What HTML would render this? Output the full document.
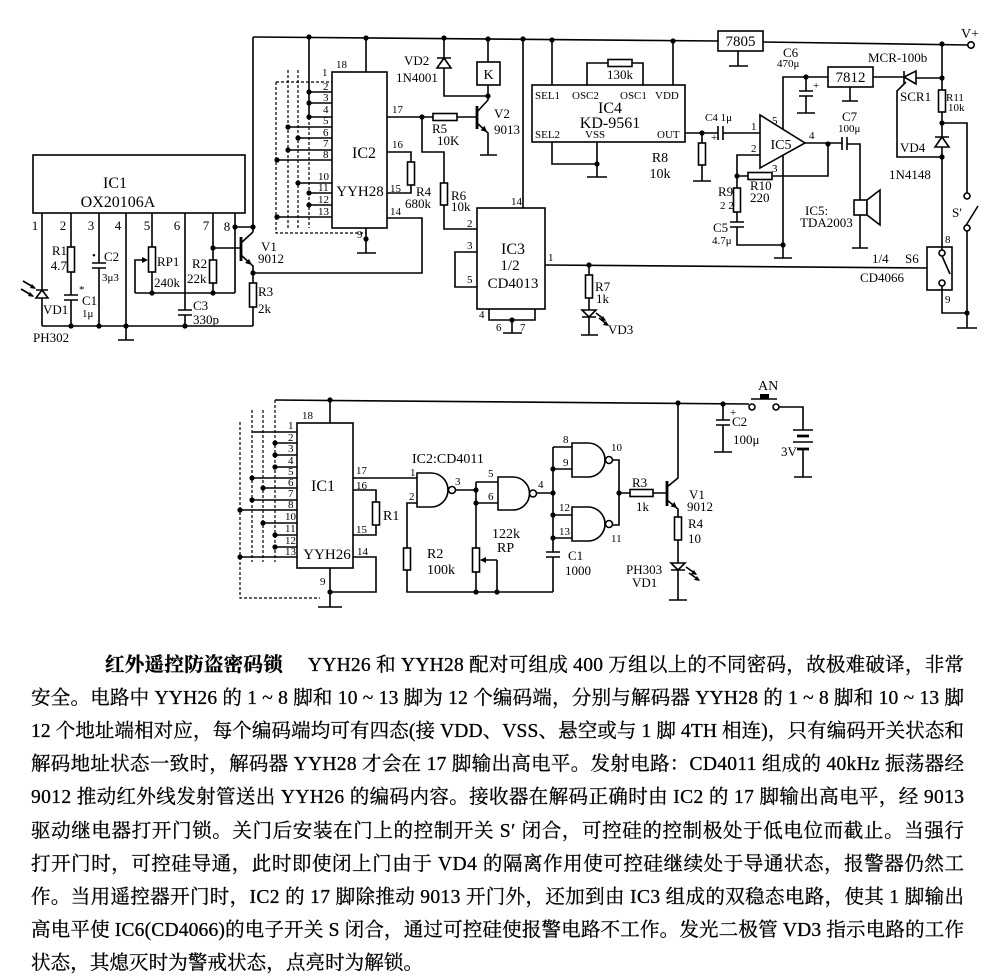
<!DOCTYPE html>
<html><head><meta charset="utf-8">
<style>
html,body{margin:0;padding:0;background:#fff;}
svg{display:block;}
.l{stroke:#000;stroke-width:1.6;fill:none;}
.k{stroke:#000;stroke-width:2.8;fill:none;}
.d{stroke:#000;stroke-width:1.2;fill:none;stroke-dasharray:3 2;}
.r{stroke:#000;stroke-width:1.6;fill:#fff;}
.f{fill:#000;stroke:none;}
text{font-family:"Liberation Serif","DejaVu Serif",serif;font-size:13px;fill:#000;}
.s{font-size:11px;}
.b{font-size:16px;}
.m{text-anchor:middle;}
.e{text-anchor:end;}
.p{font-family:"Liberation Serif","Noto Serif CJK SC",serif;font-size:19.5px;stroke:#000;stroke-width:0.3;}
</style></head><body>
<svg width="987" height="977" viewBox="0 0 987 977" xmlns="http://www.w3.org/2000/svg">
<rect width="987" height="977" fill="#fff"/>

<!-- ================= TOP CIRCUIT ================= -->
<path class="l" d="M253,37 L718,41 M763,42 L968,45"/>
<circle cx="971" cy="45" r="3.2" class="r"/>
<text x="961" y="38" style="font-size:14px">V+</text>
<rect x="718" y="31" width="45" height="20" class="r"/>
<text x="740.5" y="46" class="m" style="font-size:15px">7805</text>
<path class="l" d="M738,51 V66 M729,66 H748"/>

<!-- IC1 -->
<rect x="33" y="155" width="212" height="58" class="l"/>
<text x="115" y="188" class="m b">IC1</text>
<text x="118" y="207" class="m b">OX20106A</text>
<text x="35" y="230" class="m">1</text><text x="63" y="230" class="m">2</text>
<text x="91" y="230" class="m">3</text><text x="118" y="230" class="m">4</text>
<text x="147" y="230" class="m">5</text><text x="177" y="230" class="m">6</text>
<text x="206" y="230" class="m">7</text><text x="227" y="231" class="m">8</text>
<path class="l" d="M42,213 V290 M42,298 V326 M36,290 H48 M42,326 H253
M71,213 V247 M71,272 V295 M71,300 V326 M64,295 H78 M64,300 H78
M99,213 V263 M99,268 V326 M92,263 H106 M92,268 H106
M126,213 V340 M118,340 H134
M152,213 V247 M152,272 V293 M135,293 V260 H146 M135,293 H235
M185,213 V310 M185,315 V326 M178,310 H192 M178,315 H192
M213,213 V260 M213,283 V293 M213,248 H241
M235,213 V293 M235,227 H253
M253,37 V232 M241,243 L253,232 M241,255 L253,266 V283 M253,307 V326
M253,273 H422 V218 H387"/>
<polygon points="42,290 36,298 48,298" class="r"/>
<path class="l" d="M23,281 L35,288 M21,289 L33,296"/>
<polygon class="f" points="36,289 30,288 32,284"/><polygon class="f" points="34,297 28,296 30,292"/>
<rect x="67.5" y="247" width="7" height="25" class="r"/>
<rect x="148.5" y="247" width="7" height="25" class="r"/>
<polygon class="f" points="148,260 142,257 142,263"/>
<rect x="209.5" y="260" width="7" height="23" class="r"/>
<rect x="249.5" y="283" width="7" height="24" class="r"/>
<path class="k" d="M241,237 V261"/>
<polygon class="f" points="252,265 245,263 249,259"/>
<g class="f">
<circle cx="71" cy="326" r="2.6"/><circle cx="99" cy="326" r="2.6"/><circle cx="126" cy="326" r="2.6"/>
<circle cx="185" cy="326" r="2.6"/><circle cx="152" cy="293" r="2.6"/><circle cx="213" cy="293" r="2.6"/>
<circle cx="213" cy="248" r="2.6"/><circle cx="235" cy="227" r="2.6"/><circle cx="253" cy="227" r="2.6"/>
<circle cx="253" cy="273" r="2.6"/>
</g>
<text x="67" y="255" class="e">R1</text><text x="67" y="270" class="e">4.7</text>
<text x="79" y="293" class="s">*</text>
<text x="82" y="305">C1</text><text x="82" y="317" class="s">1μ</text>
<text x="92" y="259" class="s">•</text>
<text x="104" y="261">C2</text><text x="102" y="281" class="s">3μ3</text>
<text x="157" y="266">RP1</text><text x="154" y="287">240k</text>
<text x="192" y="268">R2</text><text x="187" y="283">22k</text>
<text x="193" y="310">C3</text><text x="193" y="324">330p</text>
<text x="258" y="296">R3</text><text x="258" y="313">2k</text>
<text x="43" y="314">VD1</text><text x="33" y="342">PH302</text>
<text x="261" y="251">V1</text><text x="258" y="263">9012</text>

<!-- IC2 -->
<rect x="332" y="72" width="55" height="156" class="l"/>
<text x="364" y="158" class="m b">IC2</text>
<text x="360" y="196" class="m" style="font-size:15px">YYH28</text>
<text x="336" y="68" class="s">18</text>
<path class="l" d="M366,38 V72 M366,228 V253 M357,253 H376
M309,37 V117
M309,92 H332 M309,103 H332 M309,117 H332 M288,127 H332 M298,138 H332 M288,150 H332
M277,160 H332 M298,183 H332 M309,193 H332 M309,205 H332 M277,217 H332"/>
<path class="d" d="M276,82 H332 M276,82 V233 H366 M288,70 V228 M298,70 V228 M309,117 V228"/>
<g class="s">
<text x="322" y="76" class="s">1</text><text x="323" y="90" class="s">2</text><text x="323" y="101" class="s">3</text>
<text x="323" y="113" class="s">4</text><text x="323" y="124" class="s">5</text><text x="323" y="136" class="s">6</text>
<text x="323" y="147" class="s">7</text><text x="323" y="158" class="s">8</text><text x="318" y="180" class="s">10</text>
<text x="318" y="191" class="s">11</text><text x="318" y="203" class="s">12</text><text x="318" y="215" class="s">13</text>
</g>
<text x="357" y="238" class="s">9</text>
<text x="392" y="113" class="s">17</text><text x="392" y="148" class="s">16</text>
<text x="390" y="192" class="s">15</text><text x="390" y="215" class="s">14</text>
<path class="l" d="M387,117 H433 M457,117 H477
M387,152 H411 V162 M411,185 V193 H387
M422,117 V152 H444 V183 M444,205 V229 H477
M488,39 V62 M488,85 V96 M477,112 L488,100 V96 M477,123 L488,133 V155 M480,155 H497
M444,38 V58 M444,68 V96 H488 M437,58 H451
M523,39 V208"/>
<rect x="433" y="113.5" width="24" height="7" class="r"/>
<rect x="407.5" y="162" width="7" height="23" class="r"/>
<rect x="440.5" y="183" width="7" height="22" class="r"/>
<rect x="477" y="62" width="23" height="23" class="r"/>
<text x="488.5" y="79" class="m" style="font-size:14px">K</text>
<polygon points="444,58 437,68 451,68" class="r"/>
<path class="k" d="M477,106 V129"/>
<polygon class="f" points="487,132 480.6,130.2 484.6,125.8"/>
<g class="f">
<circle cx="309" cy="37" r="2.6"/><circle cx="366" cy="38" r="2.6"/><circle cx="444" cy="38" r="2.6"/>
<circle cx="488" cy="39" r="2.6"/><circle cx="523" cy="39" r="2.6"/><circle cx="552" cy="40" r="2.6"/>
<circle cx="673" cy="41" r="2.6"/><circle cx="942" cy="44" r="2.6"/>
<circle cx="309" cy="92" r="2.6"/><circle cx="309" cy="103" r="2.6"/><circle cx="309" cy="117" r="2.6"/>
<circle cx="288" cy="127" r="2.6"/><circle cx="298" cy="138" r="2.6"/><circle cx="288" cy="150" r="2.6"/>
<circle cx="277" cy="160" r="2.6"/><circle cx="298" cy="183" r="2.6"/><circle cx="309" cy="193" r="2.6"/>
<circle cx="309" cy="205" r="2.6"/><circle cx="277" cy="217" r="2.6"/><circle cx="366" cy="239" r="2.6"/>
<circle cx="422" cy="117" r="2.6"/><circle cx="488" cy="96" r="2.6"/>
</g>
<text x="404" y="65">VD2</text><text x="396" y="82">1N4001</text>
<text x="432" y="133">R5</text><text x="437" y="145">10K</text>
<text x="416" y="196">R4</text><text x="405" y="208">680k</text>
<text x="451" y="200">R6</text><text x="451" y="211">10k</text>
<text x="494" y="118">V2</text><text x="494" y="134">9013</text>
<text x="511" y="205" class="s">14</text>

<!-- IC3 -->
<rect x="477" y="208" width="68" height="101" class="l"/>
<text x="513" y="254" class="m b">IC3</text>
<text x="510" y="270" class="m" style="font-size:15px">1/2</text>
<text x="513" y="288" class="m" style="font-size:15px">CD4013</text>
<text x="467" y="227" class="s">2</text><text x="467" y="249" class="s">3</text>
<text x="467" y="283" class="s">5</text><text x="548" y="261" class="s">1</text>
<path class="l" d="M477,252 H455 V287 H477
M545,265 L927,268
M589,265 V275 M589,298 V310 M589,317 V335 M581,335 H598 M582,317 H596
M489,309 V320 H535 V309 M512,320 V333 M503,333 H522"/>
<rect x="585.5" y="275" width="7" height="23" class="r"/>
<polygon points="582,310 596,310 589,317" class="r"/>
<path class="l" d="M596,313 L605,320 M599,318 L608,325"/>
<polygon class="f" points="606,321 600,320 603,316"/><polygon class="f" points="609,326 603,325 606,321"/>
<circle cx="589" cy="265" r="2.6" class="f"/><circle cx="512" cy="320" r="2.6" class="f"/>
<text x="595" y="291">R7</text><text x="596" y="303">1k</text>
<text x="608" y="334">VD3</text>
<text x="479" y="318" class="s">4</text><text x="496" y="331" class="s">6</text><text x="520" y="331" class="s">7</text>

<!-- IC4 -->
<rect x="532" y="85" width="153" height="57" class="l"/>
<text x="535" y="99" class="s">SEL1</text><text x="572" y="99" class="s">OSC2</text>
<text x="620" y="99" class="s">OSC1</text><text x="655" y="99" class="s">VDD</text>
<text x="610" y="113" class="m b">IC4</text>
<text x="610" y="128" class="m b">KD-9561</text>
<text x="535" y="138" class="s">SEL2</text><text x="585" y="138" class="s">VSS</text>
<text x="657" y="138" class="s">OUT</text>
<path class="l" d="M552,40 V85 M587,85 V63 H608 M632,63 H643 V85 M673,41 V85
M552,142 V164 H597 M597,142 V177 M587,177 H607
M685,133 H718 M723,133 H760 M718,126 V140 M723,126 V140
M702,133 V143 M702,165 V181 M693,181 H711"/>
<rect x="608" y="59.5" width="24" height="7" class="r"/>
<text x="620" y="79" class="m">130k</text>
<rect x="698.5" y="143" width="7" height="22" class="r"/>
<circle cx="597" cy="164" r="2.6" class="f"/><circle cx="702" cy="133" r="2.6" class="f"/>
<text x="705" y="121" class="s">C4 1μ</text>
<text x="711" y="141" class="s">+</text>
<text x="660" y="162" class="m" style="font-size:14px">R8</text>
<text x="660" y="178" class="m" style="font-size:14px">10k</text>

<!-- IC5 amp -->
<polygon points="760,115 760,168 805,143" class="r"/>
<text x="781" y="149" class="m" style="font-size:14px">IC5</text>
<text x="751" y="130" class="s">1</text><text x="772" y="124" class="s">5</text>
<text x="751" y="152" class="s">2</text><text x="809" y="139" class="s">4</text>
<text x="772" y="172" class="s">3</text>
<path class="l" d="M783,129 V77 H828 M783,155 V258 M774,258 H792
M760,155 H737 V188 M737,212 V222 M737,227 V245 H783 M730,222 H744 M730,227 H744
M737,176 H748 M772,176 H828 V144
M805,143 H842 M842,137 V150 M847,137 V150 M847,144 H860 V200 M860,215 V248 M852,248 H868
M806,77 V91 M799,91 H813 M799,96 H813 M806,96 V113 M797,113 H815
M873,77 H904 M916,78 H942 M850,87 V101 M842,101 H858"/>
<rect x="733.5" y="188" width="7" height="24" class="r"/>
<rect x="748" y="172.5" width="24" height="7" class="r"/>
<rect x="828" y="67" width="45" height="20" class="r"/>
<text x="850.5" y="82" class="m" style="font-size:15px">7812</text>
<rect x="854" y="200" width="13" height="15" class="r"/>
<polygon points="867,200 880,190 880,225 867,215" class="r"/>
<g class="f">
<circle cx="737" cy="176" r="2.6"/><circle cx="783" cy="245" r="2.6"/><circle cx="806" cy="77" r="2.6"/>
<circle cx="828" cy="144" r="2.6"/><circle cx="942" cy="78" r="2.6"/><circle cx="942" cy="123" r="2.6"/>
<circle cx="942" cy="157" r="2.6"/><circle cx="967" cy="313" r="2.6"/>
</g>
<text x="718" y="196">R9</text><text x="720" y="209" class="s">2 2</text>
<text x="750" y="190">R10</text><text x="750" y="202">220</text>
<text x="713" y="232">C5</text><text x="712" y="244" class="s">4.7μ</text>
<text x="813" y="89" class="s">+</text>
<text x="783" y="57">C6</text><text x="777" y="67" class="s">470μ</text>
<text x="842" y="121">C7</text><text x="838" y="132" class="s">100μ</text>
<text x="805" y="215">IC5:</text><text x="800" y="227">TDA2003</text>
<text x="868" y="62">MCR-100b</text>

<!-- SCR / alarm -->
<polygon points="904,77 916,71 916,84" class="r"/>
<path class="l" d="M904,71 V84 M906,82 L897,91 V157 H942
M942,44 V90 M942,112 V137 M942,147 V250 M935,137 H949
M942,123 H967 V193 M967,231 V328 M957,328 H977 M965,227 L978,206
M942,286 V313 H967"/>
<polygon points="942,137 935,147 949,147" class="r"/>
<rect x="938.5" y="90" width="7" height="22" class="r"/>
<circle cx="967" cy="196" r="3" class="r"/><circle cx="967" cy="228" r="3" class="r"/>
<rect x="927" y="247" width="25" height="43" class="l"/>
<circle cx="942" cy="253" r="3" class="r"/><circle cx="942" cy="283" r="3" class="r"/>
<path class="l" d="M942,256 L950,274"/>
<text x="900" y="101">SCR1</text>
<text x="946" y="101" class="s">R11</text><text x="948" y="111" class="s">10k</text>
<text x="900" y="152">VD4</text><text x="889" y="179">1N4148</text>
<text x="952" y="217">S′</text>
<text x="945" y="243" class="s">8</text><text x="945" y="303" class="s">9</text>
<text x="872" y="263">1/4</text><text x="905" y="263">S6</text>
<text x="860" y="282">CD4066</text>

<!-- ================= BOTTOM CIRCUIT ================= -->
<path class="l" d="M275,400 L749,404"/>
<rect x="297" y="423" width="56" height="145" class="l"/>
<text x="323" y="491" class="m b">IC1</text>
<text x="327" y="559" class="m" style="font-size:15px">YYH26</text>
<text x="302" y="419" class="s">18</text>
<path class="l" d="M330,400 V423 M330,568 V607 M318,607 H342
M252,432 H297 M275,443 H297 M275,455 H297 M275,467 H297 M252,478 H297 M263,488 H297
M252,500 H297 M240,510 H297 M263,523 H297 M275,535 H297 M275,547 H297 M240,557 H297"/>
<path class="d" d="M240,422 V598 H320 M252,410 V562 M263,410 V562 M275,400 V562"/>
<g>
<text x="288" y="429" class="s">1</text><text x="288" y="441" class="s">2</text><text x="288" y="452" class="s">3</text>
<text x="288" y="464" class="s">4</text><text x="288" y="475" class="s">5</text><text x="288" y="486" class="s">6</text>
<text x="288" y="497" class="s">7</text><text x="288" y="508" class="s">8</text><text x="285" y="520" class="s">10</text>
<text x="285" y="532" class="s">11</text><text x="285" y="544" class="s">12</text><text x="285" y="555" class="s">13</text>
</g>
<text x="320" y="585" class="s">9</text>
<text x="356" y="474" class="s">17</text><text x="356" y="489" class="s">16</text>
<text x="356" y="533" class="s">15</text><text x="357" y="555" class="s">14</text>
<path class="l" d="M353,478 H417 M353,490 H376 V502 M376,525 V535 H353 M353,557 H376 V592 H330
M417,503 H407 V548 M407,570 V592 H553
M456,490 H476 M476,482 V548 M476,482 H498 M476,503 H498 M476,572 V592
M497,560 H481 M497,560 V592
M537,493 H553 M553,447 V552 M553,557 V592 M546,552 H560 M546,557 H560
M553,447 H572 M553,469 H572 M553,515 H572 M553,538 H572
M613,460 H619 V525 H613 M619,493 H630 M653,493 H667
M667,487 L678,478 V403 M667,500 L678,509 V517 M678,540 V563 M678,570 V600 M669,600 H687 M671,570 H685
M723,404 V420 M716,420 H730 M716,425 H730 M723,425 V452 M714,452 H732
M779,407 H803 V430 M793,430 H813 M793,442 H813 M803,449 V477 M794,477 H812"/>
<path class="k" d="M797,436 H809 M797,449 H809 M667,481 V506"/>
<rect x="372.5" y="502" width="7" height="23" class="r"/>
<rect x="403.5" y="548" width="7" height="22" class="r"/>
<rect x="472.5" y="548" width="7" height="24" class="r"/>
<polygon class="f" points="480,560 486,557 486,563"/>
<path class="r" d="M417,473 H431 A17,17 0 0 1 431,507 H417 Z"/>
<circle cx="452" cy="490" r="3.5" class="r"/>
<path class="r" d="M498,477 H513 A16.5,16.5 0 0 1 513,510 H498 Z"/>
<circle cx="533" cy="493.5" r="3.5" class="r"/>
<path class="r" d="M572,443 H588 A17,17 0 0 1 588,477 H572 Z"/>
<circle cx="609" cy="460" r="3.5" class="r"/>
<path class="r" d="M572,507 H588 A17,17 0 0 1 588,541 H572 Z"/>
<circle cx="609" cy="524" r="3.5" class="r"/>
<rect x="630" y="489.5" width="23" height="7" class="r"/>
<rect x="674.5" y="517" width="7" height="23" class="r"/>
<polygon points="671,563 685,563 678,570" class="r"/>
<path class="l" d="M686,567 L696,574 M689,573 L699,580"/>
<polygon class="f" points="697,575 691,574 694,570"/><polygon class="f" points="700,581 694,580 697,576"/>
<polygon class="f" points="677,508 670.6,506.5 674.5,502"/>
<circle cx="752" cy="407" r="3" class="r"/><circle cx="776" cy="407" r="3" class="r"/>
<path class="l" d="M751,399 H777"/>
<rect x="760" y="394" width="9" height="5" class="f"/>
<g class="f">
<circle cx="330" cy="400" r="2.6"/><circle cx="678" cy="403" r="2.6"/><circle cx="723" cy="404" r="2.6"/>
<circle cx="330" cy="592" r="2.6"/>
<circle cx="275" cy="443" r="2.6"/><circle cx="275" cy="455" r="2.6"/><circle cx="275" cy="467" r="2.6"/>
<circle cx="252" cy="478" r="2.6"/><circle cx="263" cy="488" r="2.6"/><circle cx="252" cy="500" r="2.6"/>
<circle cx="240" cy="510" r="2.6"/><circle cx="263" cy="523" r="2.6"/><circle cx="275" cy="535" r="2.6"/>
<circle cx="275" cy="547" r="2.6"/><circle cx="240" cy="557" r="2.6"/>
<circle cx="476" cy="490" r="2.6"/><circle cx="476" cy="503" r="2.6"/><circle cx="476" cy="592" r="2.6"/>
<circle cx="497" cy="592" r="2.6"/>
<circle cx="553" cy="469" r="2.6"/><circle cx="553" cy="493" r="2.6"/><circle cx="553" cy="515" r="2.6"/>
<circle cx="553" cy="538" r="2.6"/><circle cx="619" cy="493" r="2.6"/>
</g>
<text x="383" y="520" style="font-size:14px">R1</text>
<text x="412" y="463" style="font-size:14px">IC2:CD4011</text>
<text x="410" y="476" class="s">1</text><text x="409" y="500" class="s">2</text>
<text x="455" y="485" class="s">3</text>
<text x="488" y="477" class="s">5</text><text x="488" y="500" class="s">6</text>
<text x="538" y="488" class="s">4</text>
<text x="427" y="558" style="font-size:14px">R2</text><text x="427" y="574" style="font-size:14px">100k</text>
<text x="492" y="538" style="font-size:14px">122k</text><text x="497" y="552" style="font-size:14px">RP</text>
<text x="563" y="443" class="s">8</text><text x="563" y="466" class="s">9</text>
<text x="611" y="451" class="s">10</text>
<text x="559" y="511" class="s">12</text><text x="559" y="535" class="s">13</text>
<text x="611" y="542" class="s">11</text>
<text x="568" y="560">C1</text><text x="565" y="575">1000</text>
<text x="632" y="487">R3</text><text x="636" y="511">1k</text>
<text x="689" y="499">V1</text><text x="687" y="511">9012</text>
<text x="688" y="528">R4</text><text x="688" y="543">10</text>
<text x="626" y="574">PH303</text><text x="632" y="587">VD1</text>
<text x="758" y="390" style="font-size:14px">AN</text>
<text x="730" y="416" class="s">+</text>
<text x="732" y="426">C2</text><text x="733" y="444">100μ</text>
<text x="781" y="456">3V</text>

<!-- ================= TEXT ================= -->
<g>
<text class="p" x="105" y="671" textLength="859" lengthAdjust="spacing"><tspan font-weight="bold" style="font-family:'Noto Serif CJK SC','Noto Sans CJK SC',serif">红外遥控防盗密码锁</tspan>　 YYH26 和 YYH28 配对可组成 400 万组以上的不同密码，故极难破译，非常</text>
<text class="p" x="31" y="704" textLength="933" lengthAdjust="spacing">安全。电路中 YYH26 的 1 ~ 8 脚和 10 ~ 13 脚为 12 个编码端，分别与解码器 YYH28 的 1 ~ 8 脚和 10 ~ 13 脚</text>
<text class="p" x="31" y="737" textLength="933" lengthAdjust="spacing">12 个地址端相对应，每个编码端均可有四态(接 VDD、VSS、悬空或与 1 脚 4TH 相连)，只有编码开关状态和</text>
<text class="p" x="31" y="770" textLength="933" lengthAdjust="spacing">解码地址状态一致时，解码器 YYH28 才会在 17 脚输出高电平。发射电路：CD4011 组成的 40kHz 振荡器经</text>
<text class="p" x="31" y="803" textLength="933" lengthAdjust="spacing">9012 推动红外线发射管送出 YYH26 的编码内容。接收器在解码正确时由 IC2 的 17 脚输出高电平，经 9013</text>
<text class="p" x="31" y="837" textLength="933" lengthAdjust="spacing">驱动继电器打开门锁。关门后安装在门上的控制开关 S′ 闭合，可控硅的控制极处于低电位而截止。当强行</text>
<text class="p" x="31" y="870" textLength="933" lengthAdjust="spacing">打开门时，可控硅导通，此时即使闭上门由于 VD4 的隔离作用使可控硅继续处于导通状态，报警器仍然工</text>
<text class="p" x="31" y="903" textLength="933" lengthAdjust="spacing">作。当用遥控器开门时，IC2 的 17 脚除推动 9013 开门外，还加到由 IC3 组成的双稳态电路，使其 1 脚输出</text>
<text class="p" x="31" y="936" textLength="933" lengthAdjust="spacing">高电平使 IC6(CD4066)的电子开关 S 闭合，通过可控硅使报警电路不工作。发光二极管 VD3 指示电路的工作</text>
<text class="p" x="31" y="969" textLength="392" lengthAdjust="spacing">状态，其熄灭时为警戒状态，点亮时为解锁。</text>
</g>
</svg>
</body></html>
